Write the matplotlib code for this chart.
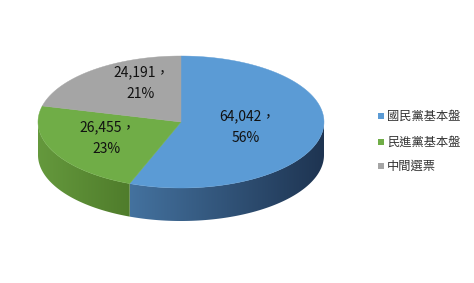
import numpy as np
import matplotlib
matplotlib.use("Agg")
import matplotlib.pyplot as plt
from matplotlib.patches import Polygon, Rectangle
from matplotlib.colors import to_rgb

plt.rcParams['font.family'] = ['Noto Sans CJK TC', 'DejaVu Sans']

# --- data ---
labels = ["國民黨基本盤", "民進黨基本盤", "中間選票"]
values = [64042, 26455, 24191]
top_colors = ["#5b9bd5", "#70ad47", "#a5a5a5"]
# side gradient (left -> right) for each slice
side_colors = [("#44729f", "#1e3451"), ("#65993d", "#4f7c2b"), ("#8a8a8a", "#6a6a6a")]

# --- geometry of the 3D pie (pixel space) ---
cx, cy = 181, 122
a, b = 143, 66
depth = 33


def pt(theta_deg, dy=0):
    t = np.radians(theta_deg)
    return cx + a * np.cos(t), cy - b * np.sin(t) + dy


def arc(t1, t2, n=120, dy=0):
    ts = np.linspace(t1, t2, n)
    return [pt(t, dy) for t in ts]


fig = plt.figure(figsize=(4.74, 2.83), dpi=100)
ax = fig.add_axes([0, 0, 1, 1])
ax.set_xlim(0, 474)
ax.set_ylim(283, 0)
ax.axis("off")

total = sum(values)
angles = []
start = 90.0
for v in values:
    sweep = 360.0 * v / total
    angles.append((start - sweep, start))
    start -= sweep

# sides (front half only: -180..0), horizontal gradient clipped to the side shape
for (t1, t2), (c_left, c_right) in zip(angles, side_colors):
    lo = max(t1, -180.0)
    hi = min(t2, 0.0)
    if lo >= hi:
        continue
    verts = arc(lo, hi) + arc(hi, lo, dy=depth)
    poly = Polygon(verts, closed=True, facecolor="none", edgecolor="none")
    ax.add_patch(poly)
    xs = [p[0] for p in verts]
    ys = [p[1] for p in verts]
    x0, x1 = min(xs), max(xs)
    y0, y1 = min(ys), max(ys)
    cl, cr = np.array(to_rgb(c_left)), np.array(to_rgb(c_right))
    f = np.linspace(0, 1, 200)[None, :, None]
    grad = cl * (1 - f) + cr * f
    grad = np.repeat(grad, 2, axis=0)
    im = ax.imshow(grad, extent=(x0 - 0.5, x1 + 0.5, y1 + 0.5, y0 - 0.5),
                   aspect="auto", interpolation="bilinear", zorder=1)
    im.set_clip_path(poly)

ax.set_xlim(0, 474)
ax.set_ylim(283, 0)

# top faces
for (t1, t2), col in zip(angles, top_colors):
    verts = [(cx, cy)] + arc(t1, t2)
    ax.add_patch(Polygon(verts, closed=True, facecolor=col, edgecolor=col,
                         linewidth=0.3, zorder=2))

# data labels
label_pos = [(247, 116), (108, 127), (142, 72)]
for v, (x, y) in zip(values, label_pos):
    pct = round(100 * v / total)
    ax.text(x, y, f"{v:,}，", ha="center", va="center", fontsize=10,
            color="#111111", zorder=3)
    ax.text(x - 1, y + 22, f"{pct}%", ha="center", va="center", fontsize=10,
            color="#111111", zorder=3)

# legend
leg_y = [116, 142, 166]
for lab, col, y in zip(labels, top_colors, leg_y):
    ax.add_patch(Rectangle((378.5, y - 3), 6, 6, facecolor=col, edgecolor="none"))
    ax.text(387, y, lab, ha="left", va="center", fontsize=8.8, color="#333333")

fig.savefig("out.png", dpi=100)
